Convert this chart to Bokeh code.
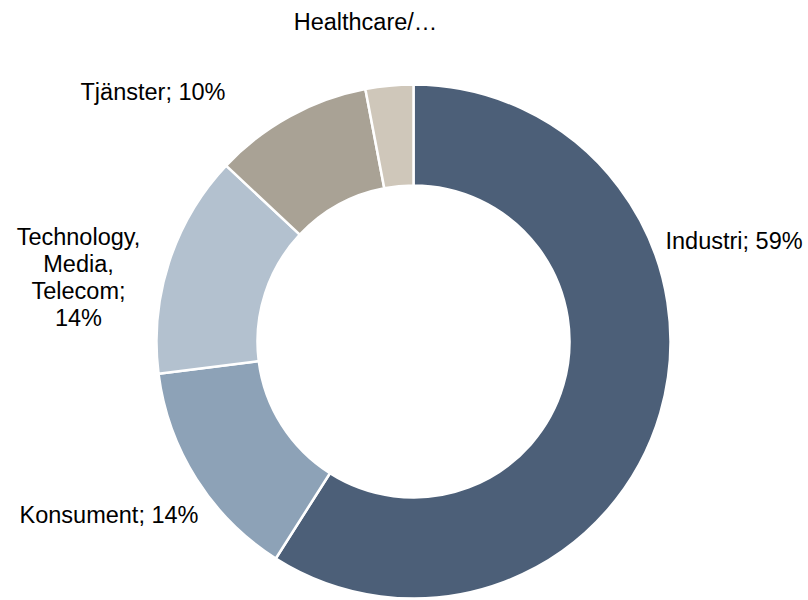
import math
from bokeh.plotting import figure
from bokeh.models import Range1d, ColumnDataSource
from bokeh.core.properties import value
from bokeh.embed import file_html
from bokeh.resources import INLINE

# ---- data ----
sectors = ["Industri", "Konsument", "Technology, Media, Telecom", "Tjänster", "Healthcare"]
shares = [59, 14, 14, 10, 3]
label_lines = [["Industri; 59%"], ["Konsument; 14%"], ["Technology,", "Media,", "Telecom;", "14%"],
               ["Tjänster; 10%"], ["Healthcare/…"]]
colors = ["#4C5F78", "#8DA2B7", "#B3C1CF", "#A9A295", "#CFC7BA"]

# ---- layout (page pixel coordinates; data y = 600 - page y) ----
W, H = 808, 600
cx, cy = 413, 600 - 341
r_out, r_in = 257, 156
# label anchor: (x, first baseline page y, align)
label_pos = [(665, 240, "left"), (19, 514, "left"), (78, 236, "center"),
             (80, 91, "left"), (365, 21, "center")]
line_gap = 27.3

p = figure(width=W, height=H, output_backend="svg", toolbar_location=None,
           x_range=Range1d(0, W), y_range=Range1d(0, H),
           min_border=0, outline_line_color=None, background_fill_color="white")
p.axis.visible = False
p.grid.visible = False

total = float(sum(shares))
starts, ends = [], []
cum = 0.0
for s in shares:
    starts.append(math.pi / 2 - 2 * math.pi * cum / total)
    cum += s
    ends.append(math.pi / 2 - 2 * math.pi * cum / total)

src = ColumnDataSource(dict(x=[cx] * len(shares), y=[cy] * len(shares),
                            start=starts, end=ends, color=colors, name=sectors))
p.annular_wedge(x="x", y="y", inner_radius=r_in, outer_radius=r_out,
                start_angle="start", end_angle="end", direction="clock",
                fill_color="color", line_color="white", line_width=2.5, source=src)

tx, ty, tt, ta = [], [], [], []
for lines, (lx, ly, al) in zip(label_lines, label_pos):
    for i, ln in enumerate(lines):
        tx.append(lx)
        ty.append(600 - (ly + i * line_gap))
        tt.append(ln)
        ta.append(al)
tsrc = ColumnDataSource(dict(x=tx, y=ty, text=tt, align=ta))
p.text(x="x", y="y", text="text", text_align="align", text_baseline="alphabetic",
       text_font=value("Liberation Sans"), text_font_size="23.5px", text_color="#000000",
       source=tsrc)

open("out.html", "w").write(file_html(p, INLINE))
